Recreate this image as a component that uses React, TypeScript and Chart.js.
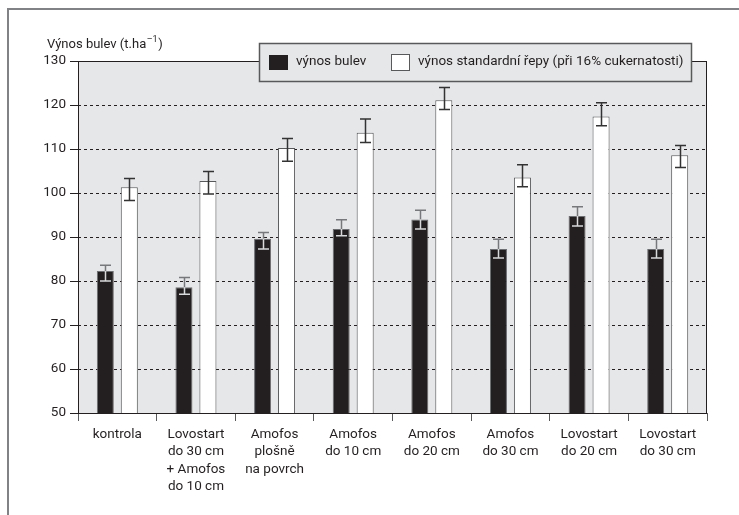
import { useEffect, useRef } from 'react';
import { Chart, registerables } from 'chart.js';

Chart.register(...registerables);

const FONT = "Roboto, 'Liberation Sans', sans-serif";
const TEXT = '#231f20';

const categories: string[][] = [
  ['kontrola'],
  ['Lovostart', 'do 30 cm', '+ Amofos', 'do 10 cm'],
  ['Amofos', 'plošně', 'na povrch'],
  ['Amofos', 'do 10 cm'],
  ['Amofos', 'do 20 cm'],
  ['Amofos', 'do 30 cm'],
  ['Lovostart', 'do 20 cm'],
  ['Lovostart', 'do 30 cm'],
];

const seriesNames = ['výnos bulev', 'výnos standardní řepy (při 16% cukernatosti)'];

const yieldRoots = [82.3, 78.6, 89.6, 91.8, 94.0, 87.3, 94.8, 87.3];
const rootsLow = [80.0, 77.0, 87.3, 90.3, 91.8, 85.2, 92.5, 85.2];
const rootsHigh = [83.6, 80.8, 91.0, 93.9, 96.1, 89.5, 96.9, 89.5];

const yieldStd = [101.3, 102.7, 110.2, 113.7, 121.1, 103.5, 117.4, 108.6];
const stdLow = [98.3, 99.8, 107.2, 111.5, 119.0, 101.4, 115.3, 105.8];
const stdHigh = [103.3, 104.9, 112.4, 116.8, 124.0, 106.4, 120.5, 110.8];

const yMin = 50;
const yMax = 130;
const yStep = 10;

const yTitleMain = 'Výnos bulev (t.ha';
const yTitleSup = '–1';
const yTitleEnd = ')';

const errLow = [rootsLow, stdLow];
const errHigh = [rootsHigh, stdHigh];

const backgroundPlugin = {
  id: 'bg',
  beforeDraw(chart: any) {
    const { ctx, chartArea: a } = chart;
    ctx.save();
    ctx.fillStyle = '#ffffff';
    ctx.fillRect(0, 0, chart.width, chart.height);
    ctx.fillStyle = '#e6e7e8';
    ctx.fillRect(a.left, a.top, a.right - a.left, a.bottom - a.top);
    ctx.restore();
  },
  beforeDatasetsDraw(chart: any) {
    const { ctx, chartArea: a } = chart;
    ctx.save();
    ctx.strokeStyle = '#231f20';
    ctx.lineWidth = 1;
    ctx.strokeRect(Math.round(a.left) + 0.5, Math.round(a.top) + 0.5, Math.round(a.right - a.left) - 1, Math.round(a.bottom - a.top));
    ctx.restore();
  },
};

const errorBarPlugin = {
  id: 'errbars',
  afterDatasetsDraw(chart: any) {
    const { ctx } = chart;
    const ys = chart.scales.y;
    chart.data.datasets.forEach((_ds: any, di: number) => {
      const meta = chart.getDatasetMeta(di);
      meta.data.forEach((bar: any, i: number) => {
        const x = Math.round(bar.x) + 0.5;
        const top = bar.y;
        const yHi = ys.getPixelForValue(errHigh[di][i]);
        const yLo = ys.getPixelForValue(errLow[di][i]);
        const half = 5.5;
        ctx.save();
        ctx.lineWidth = 1.5;
        if (di === 0) {
          ctx.strokeStyle = '#77787b';
          ctx.beginPath();
          ctx.moveTo(x, yHi);
          ctx.lineTo(x, top);
          ctx.moveTo(x - half, yHi);
          ctx.lineTo(x + half, yHi);
          ctx.stroke();
          ctx.strokeStyle = '#d8d9da';
          ctx.beginPath();
          ctx.moveTo(x, top);
          ctx.lineTo(x, yLo);
          ctx.moveTo(x - half, yLo);
          ctx.lineTo(x + half, yLo);
          ctx.stroke();
        } else {
          ctx.strokeStyle = '#333333';
          ctx.beginPath();
          ctx.moveTo(x, yHi);
          ctx.lineTo(x, yLo);
          ctx.moveTo(x - half, yHi);
          ctx.lineTo(x + half, yHi);
          ctx.moveTo(x - half, yLo);
          ctx.lineTo(x + half, yLo);
          ctx.stroke();
        }
        ctx.restore();
      });
    });
  },
};

const overlayPlugin = {
  id: 'overlay',
  afterDraw(chart: any) {
    const { ctx } = chart;
    ctx.save();
    ctx.strokeStyle = '#808285';
    ctx.lineWidth = 2;
    ctx.beginPath();
    ctx.moveTo(8, 515);
    ctx.lineTo(8, 9);
    ctx.lineTo(739, 9);
    ctx.stroke();

    ctx.fillStyle = TEXT;
    ctx.textBaseline = 'alphabetic';
    ctx.textAlign = 'left';
    ctx.font = `13px ${FONT}`;
    let tx = 47;
    ctx.fillText(yTitleMain, tx, 48);
    tx += ctx.measureText(yTitleMain).width;
    ctx.font = `9px ${FONT}`;
    ctx.fillText(yTitleSup, tx + 0.5, 42);
    tx += ctx.measureText(yTitleSup).width + 1;
    ctx.font = `13px ${FONT}`;
    ctx.fillText(yTitleEnd, tx, 48);

    const lx = 259, ly = 43, lw = 432, lh = 38;
    ctx.fillStyle = '#e6e7e8';
    ctx.fillRect(lx, ly, lw, lh);
    ctx.strokeStyle = '#58595b';
    ctx.lineWidth = 1.5;
    ctx.strokeRect(lx + 0.5, ly + 0.5, lw, lh);

    ctx.fillStyle = '#231f20';
    ctx.fillRect(269, 55, 19, 15);
    ctx.fillStyle = '#ffffff';
    ctx.fillRect(392, 55, 17, 15);
    ctx.strokeStyle = '#58595b';
    ctx.lineWidth = 1;
    ctx.strokeRect(391.5, 54.5, 18, 16);

    ctx.fillStyle = TEXT;
    ctx.font = `13.5px ${FONT}`;
    ctx.textBaseline = 'middle';
    ctx.fillText(seriesNames[0], 296, 62);
    ctx.fillText(seriesNames[1], 418, 62);
    ctx.restore();
  },
};

export default function App() {
  const ref = useRef<HTMLCanvasElement>(null);
  useEffect(() => {
    const chart = new Chart(ref.current as HTMLCanvasElement, {
      type: 'bar',
      data: {
        labels: categories,
        datasets: [
          {
            label: seriesNames[0],
            data: yieldRoots,
            backgroundColor: '#231f20',
            borderColor: '#6d6e71',
            borderWidth: 1,
            barPercentage: 0.71,
            categoryPercentage: 0.61,
          },
          {
            label: seriesNames[1],
            data: yieldStd,
            backgroundColor: '#ffffff',
            borderColor: '#58595b',
            borderWidth: 1,
            barPercentage: 0.71,
            categoryPercentage: 0.61,
          },
        ],
      },
      options: {
        animation: false,
        responsive: false,
        devicePixelRatio: 1,
        layout: { padding: { left: 0, top: 61, right: 32, bottom: 0 } },
        plugins: {
          legend: { display: false },
          tooltip: { enabled: false },
        },
        scales: {
          x: {
            grid: {
              drawOnChartArea: false,
              drawTicks: true,
              tickLength: 8,
              color: '#58595b',
              offset: true,
            },
            border: { display: false },
            ticks: {
              font: { family: FONT, size: 13.5, lineHeight: 1.28 },
              color: TEXT,
              padding: 5,
              maxRotation: 0,
              autoSkip: false,
            },
            afterFit: (s: any) => {
              s.height = 102;
            },
          },
          y: {
            min: yMin,
            max: yMax,
            ticks: {
              stepSize: yStep,
              font: { family: FONT, size: 13.5 },
              color: TEXT,
              padding: 4,
            },
            grid: {
              color: (c: any) =>
                c.tick && (c.tick.value === yMin || c.tick.value === yMax) ? 'rgba(0,0,0,0)' : '#231f20',
              tickColor: '#231f20',
              tickLength: 8,
              lineWidth: 1,
              tickBorderDash: [],
            },
            border: { display: false, dash: [3, 3] },
            afterFit: (s: any) => {
              s.width = 78;
            },
          },
        },
      },
      plugins: [backgroundPlugin, errorBarPlugin, overlayPlugin],
    } as any);
    return () => chart.destroy();
  }, []);
  return (
    <div style={{ position: 'fixed', left: 0, top: 0, width: 739, height: 515, background: '#fff' }}>
      <canvas ref={ref} width={739} height={515} style={{ display: 'block' }} />
    </div>
  );
}
